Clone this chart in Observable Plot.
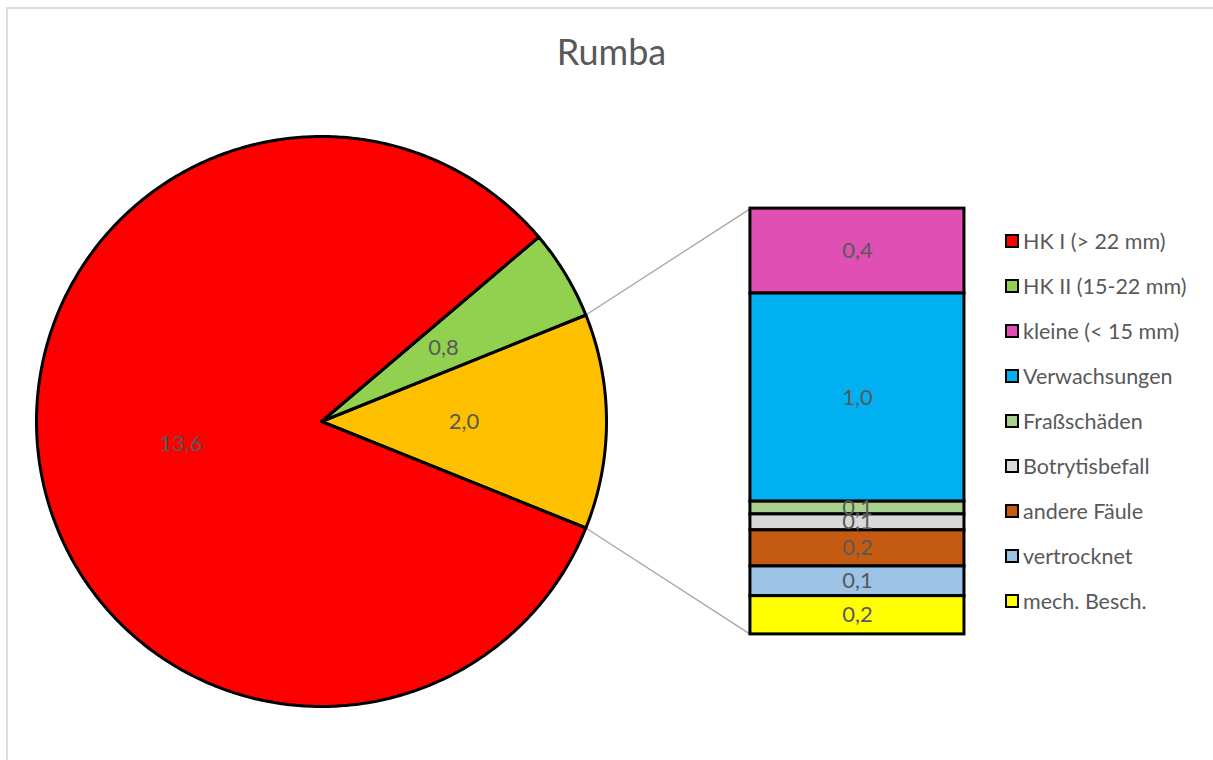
<!DOCTYPE html>
<html>
<head>
<meta charset="utf-8">
<script src="https://cdn.jsdelivr.net/npm/d3@7"></script>
<script src="https://cdn.jsdelivr.net/npm/@observablehq/plot@0.6"></script>
<style>
  html, body { margin: 0; padding: 0; background: #fff; overflow: hidden; }
  #wrap { position: relative; width: 1213px; height: 760px; overflow: hidden; font-family: Lato, "Open Sans", sans-serif; }
  #frame { position: absolute; left: 6px; top: 7px; width: 1400px; height: 900px; border: 2px solid #dcdcdc; box-sizing: border-box; }
  #title { position: absolute; left: 0; width: 1223px; top: 29px; text-align: center; font-size: 36px; color: #595959; }
  #chart { position: absolute; left: 0; top: 0; }
  .leg { position: absolute; left: 1005px; height: 20px; display: flex; align-items: center; font-size: 21.5px; color: #595959; white-space: nowrap; }
  .sw { width: 10px; height: 10px; border: 2.5px solid #000; margin-right: 4px; }
</style>
</head>
<body>
<div id="wrap">
  <div id="frame"></div>
  <div id="chart"></div>
  <div id="title">Rumba</div>
  <div id="legend"></div>
</div>
<script>
// ---- data ----
const pieNames = ["HK I (> 22 mm)", "HK II (15-22 mm)"];
const pieValues = [13.6, 0.84];
const pieColors = ["#FF0000", "#92D050"];
const otherColor = "#FFC000";

const barNames = ["kleine (< 15 mm)", "Verwachsungen", "Fraßschäden", "Botrytisbefall", "andere Fäule", "vertrocknet", "mech. Besch."];
const barValues = [0.40, 0.98, 0.06, 0.075, 0.17, 0.14, 0.18];
const barColors = ["#E04FB4", "#00B0F0", "#A9D18E", "#D9D9D9", "#C55A11", "#9DC3E6", "#FFFF00"];

// ---- layout (pixels -> unit coordinates, pie radius = 1) ----
const W = 1213, H = 760, CX = 321, CY = 421, RPX = 285;
const BAR_X1 = 1.505, BAR_X2 = 2.256, BAR_HALF = 0.747;

const fmt = v => d3.format(".1f")(v).replace(".", ",");

const other = d3.sum(barValues);
const total = d3.sum(pieValues) + other;
const otherSpan = other / total * 2 * Math.PI;

// slices: angles in math convention (ccw from +x)
const slices = [];
slices.push({name: "Sonstige", value: other, color: otherColor, a0: -otherSpan / 2, a1: otherSpan / 2});
let a = otherSpan / 2;
for (let i = pieValues.length - 1; i >= 0; i--) {
  const span = pieValues[i] / total * 2 * Math.PI;
  slices.push({name: pieNames[i], value: pieValues[i], color: pieColors[i], a0: a, a1: a + span});
  a += span;
}
const piePts = [];
for (const s of slices) {
  const n = Math.max(4, Math.ceil((s.a1 - s.a0) / 0.01));
  piePts.push({name: s.name, color: s.color, x: 0, y: 0});
  for (let k = 0; k <= n; k++) {
    const t = s.a0 + (s.a1 - s.a0) * k / n;
    piePts.push({name: s.name, color: s.color, x: Math.cos(t), y: Math.sin(t)});
  }
  piePts.push({name: s.name, color: s.color, x: 0, y: 0});
}
const pieLabels = slices.map(s => {
  const m = (s.a0 + s.a1) / 2;
  return {x: 0.5 * Math.cos(m), y: 0.5 * Math.sin(m), text: fmt(s.value)};
});

// bar segments (top to bottom)
const k = 2 * BAR_HALF / other;
let cum = 0;
const bars = barValues.map((v, i) => {
  const r = {name: barNames[i], color: barColors[i], value: v,
    y1: BAR_HALF - cum * k, y2: BAR_HALF - (cum + v) * k};
  cum += v;
  return r;
});

const links = [
  {x1: Math.cos(otherSpan / 2), y1: Math.sin(otherSpan / 2), x2: BAR_X1, y2: BAR_HALF},
  {x1: Math.cos(-otherSpan / 2), y1: Math.sin(-otherSpan / 2), x2: BAR_X1, y2: -BAR_HALF}
];

const plot = Plot.plot({
  width: W, height: H,
  margin: 0,
  style: {fontFamily: "Lato, 'Open Sans', sans-serif", background: "transparent"},
  x: {domain: [-CX / RPX, (W - CX) / RPX], axis: null},
  y: {domain: [-(H - CY) / RPX, CY / RPX], axis: null},
  marks: [
    Plot.link(links, {x1: "x1", y1: "y1", x2: "x2", y2: "y2", stroke: "#A6A6A6", strokeWidth: 1.3}),
    Plot.line(piePts, {x: "x", y: "y", z: "name", fill: "color", stroke: "#000", strokeWidth: 3, strokeLinejoin: "round", curve: "linear"}),
    Plot.rect(bars, {x1: BAR_X1, x2: BAR_X2, y1: "y1", y2: "y2", fill: "color", stroke: "#000", strokeWidth: 3}),
    Plot.text(pieLabels, {x: "x", y: "y", text: "text", fontSize: 22, fill: "#595959"}),
    Plot.text(bars, {x: (BAR_X1 + BAR_X2) / 2, y: d => (d.y1 + d.y2) / 2, text: d => fmt(d.value), fontSize: 22, fill: "#595959"})
  ]
});
document.getElementById("chart").appendChild(plot);

// legend
const legItems = pieNames.map((n, i) => ({name: n, color: pieColors[i]}))
  .concat(barNames.map((n, i) => ({name: n, color: barColors[i]})));
const leg = document.getElementById("legend");
legItems.forEach((d, i) => {
  const el = document.createElement("div");
  el.className = "leg";
  el.style.top = (231 + i * 45) + "px";
  const sw = document.createElement("div");
  sw.className = "sw";
  sw.style.background = d.color;
  const tx = document.createElement("span");
  tx.textContent = d.name;
  el.appendChild(sw); el.appendChild(tx);
  leg.appendChild(el);
});
</script>
</body>
</html>
